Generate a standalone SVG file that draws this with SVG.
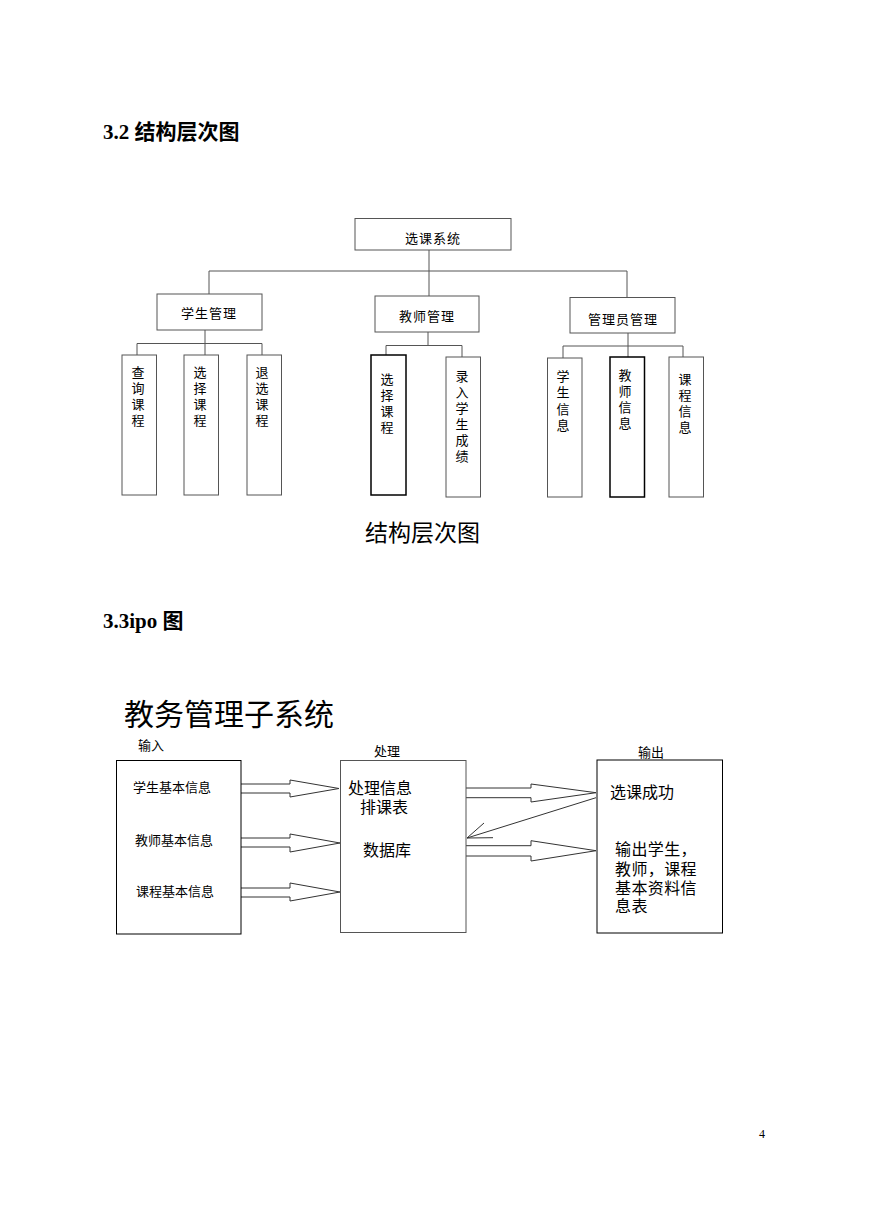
<svg xmlns="http://www.w3.org/2000/svg" width="869" height="1228" viewBox="0 0 869 1228">
<style>
.bg{fill:#fff}
.box{fill:#fff;stroke:#555;stroke-width:1}
.dark{fill:#fff;stroke:#000;stroke-width:1.5}
.ln{fill:none;stroke:#555;stroke-width:1}
.ar{fill:none;stroke:#333;stroke-width:1}
.h{font-family:"Liberation Serif","Noto Sans CJK SC",serif;font-weight:bold;font-size:21px;fill:#000}
.t{font-family:"Noto Sans CJK SC",sans-serif;font-size:13px;fill:#000}
.tm{font-family:"Noto Sans CJK SC",sans-serif;font-size:13px;fill:#000;text-anchor:middle}
.v{font-family:"Noto Sans CJK SC",sans-serif;font-size:13px;fill:#000;writing-mode:vertical-rl;letter-spacing:3px}
.m{font-family:"Noto Sans CJK SC",sans-serif;font-size:16px;fill:#000}
.cap{font-family:"Noto Sans CJK SC",sans-serif;font-size:23px;fill:#000}
.big{font-family:"Liberation Serif","Noto Sans CJK SC",serif;font-size:30px;fill:#000}
.pn{font-family:"Liberation Serif",serif;font-size:12px;fill:#000}
</style>
<rect class="bg" x="0" y="0" width="869" height="1228"/>

<text class="h" x="103" y="139">3.2 结构层次图</text>

<g id="connectors">
  <polyline class="ln" points="429,250 429,271"/>
  <polyline class="ln" points="209,271 627,271"/>
  <polyline class="ln" points="209,271 209,294"/>
  <polyline class="ln" points="429,271 429,296"/>
  <polyline class="ln" points="627,271 627,297"/>
  <polyline class="ln" points="205,330 205,343.5"/>
  <polyline class="ln" points="137,343.5 262,343.5"/>
  <polyline class="ln" points="137,343.5 137,355"/>
  <polyline class="ln" points="205,343.5 205,355"/>
  <polyline class="ln" points="262,343.5 262,355"/>
  <polyline class="ln" points="428,332 428,345.5"/>
  <polyline class="ln" points="386,345.5 462,345.5"/>
  <polyline class="ln" points="386,345.5 386,355"/>
  <polyline class="ln" points="462,345.5 462,357"/>
  <polyline class="ln" points="628,333 628,357"/>
  <polyline class="ln" points="563,346 683,346"/>
  <polyline class="ln" points="563,346 563,358"/>
  <polyline class="ln" points="683,346 683,357"/>

  <polyline class="ar" points="241,784 290,784 290,780 339,788.5 290,797 290,793 241,793"/>
  <polyline class="ar" points="241,838 290,838 290,834 340,843 290,852 290,847 241,847"/>
  <polyline class="ar" points="241,888 290,888 290,883 340,892 290,901 290,897 241,897"/>
  <polyline class="ar" points="466,788 531,788 531,784 596,792.7 531,802 531,797.7 466,797.7"/>
  <polyline class="ar" points="466,845.7 531,845.7 531,840.7 596,850.7 531,861 531,856 466,856"/>
  <polyline class="ar" points="596,797.7 467,838"/>
  <polyline class="ar" points="484,823 467,838 493,837.7"/>
</g>

<g id="n-root">
  <rect class="box" x="355" y="218.5" width="156" height="31.5"/>
  <text class="tm" x="433" y="243" letter-spacing="1">选课系统</text>
</g>
<g id="n-student">
  <rect class="box" x="157" y="294" width="105" height="36"/>
  <text class="tm" x="209" y="318" letter-spacing="1">学生管理</text>
</g>
<g id="n-teacher">
  <rect class="box" x="375" y="296" width="104" height="36"/>
  <text class="tm" x="427" y="321" letter-spacing="1">教师管理</text>
</g>
<g id="n-admin">
  <rect class="box" x="570" y="297.5" width="105" height="35.5"/>
  <text class="tm" x="623" y="324" letter-spacing="1">管理员管理</text>
</g>

<g id="n-s1">
  <rect class="box" x="122" y="355" width="34.5" height="140"/>
  <text class="v" x="138" y="365.5">查询课程</text>
</g>
<g id="n-s2">
  <rect class="box" x="184" y="355" width="34.5" height="140"/>
  <text class="v" x="200" y="365.5">选择课程</text>
</g>
<g id="n-s3">
  <rect class="box" x="247" y="355" width="34.5" height="140"/>
  <text class="v" x="262" y="365.5">退选课程</text>
</g>
<g id="n-t1">
  <rect class="dark" x="371" y="355" width="35" height="140"/>
  <text class="v" x="387" y="373">选择课程</text>
</g>
<g id="n-t2">
  <rect class="box" x="446" y="357" width="34.5" height="140"/>
  <text class="v" x="462" y="369.5">录入学生成绩</text>
</g>
<g id="n-a1">
  <rect class="box" x="547.5" y="358" width="34.5" height="139"/>
  <text class="v" x="563" y="369.5" style="letter-spacing:3.5px">学生信息</text>
</g>
<g id="n-a2">
  <rect class="dark" x="610" y="357" width="34.5" height="140"/>
  <text class="v" x="625" y="368.5">教师信息</text>
</g>
<g id="n-a3">
  <rect class="box" x="669" y="357" width="34.5" height="140"/>
  <text class="v" x="685" y="372.5">课程信息</text>
</g>

<text class="cap" x="365" y="541">结构层次图</text>

<text class="h" x="103" y="628">3.3ipo 图</text>

<text class="big" x="124" y="725">教务管理子系统</text>

<g id="n-input">
  <text class="t" x="138" y="750">输入</text>
  <rect class="box" x="116.5" y="760.5" width="124.5" height="173.5" style="stroke:#000"/>
  <text class="t" x="133" y="792">学生基本信息</text>
  <text class="t" x="135" y="845">教师基本信息</text>
  <text class="t" x="136" y="896">课程基本信息</text>
</g>
<g id="n-process">
  <text class="t" x="374" y="756">处理</text>
  <rect class="box" x="340.5" y="760.5" width="125.5" height="172"/>
  <text class="m"><tspan x="348" y="794">处理信息</tspan><tspan x="360" y="813">排课表</tspan></text>
  <text class="m" x="363" y="856">数据库</text>
</g>
<g id="n-output">
  <text class="t" x="638" y="757">输出</text>
  <rect class="box" x="597" y="760" width="125.5" height="173" style="stroke:#000"/>
  <text class="m" x="610" y="798">选课成功</text>
  <text class="m" letter-spacing="0.4"><tspan x="615" y="855">输出学生，</tspan><tspan x="615" y="874.5">教师，课程</tspan><tspan x="615" y="893.5">基本资料信</tspan><tspan x="615" y="912">息表</tspan></text>
</g>

<text class="pn" x="759" y="1138">4</text>
</svg>
